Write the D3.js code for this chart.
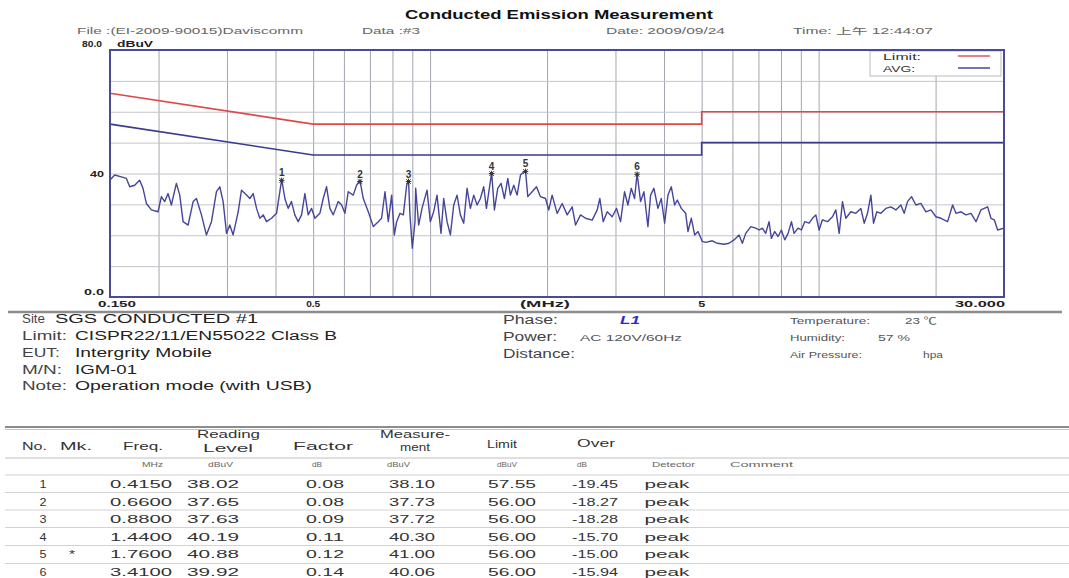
<!DOCTYPE html>
<html>
<head>
<meta charset="utf-8">
<script src="https://cdn.jsdelivr.net/npm/d3@7"></script>
<style>
  body { margin: 0; background: #fff; }
  svg text { font-family: "Liberation Sans", Arial, "Noto Sans CJK SC", sans-serif; }
</style>
</head>
<body>
<svg id="chart" width="1069" height="578"></svg>
<script>
// scan trace, [MHz, dBuV]
const trace = [
  [0.150, 37.9], [0.1542, 39.5], [0.1604, 38.9], [0.1653, 38.4], [0.1686, 35.7], [0.1736, 36.2],
  [0.1788, 37.8], [0.1824, 35.2], [0.1861, 30.3], [0.1917, 28.2], [0.1994, 27.6], [0.2034, 32.5],
  [0.2075, 30.9], [0.2116, 33.5], [0.2158, 29.8], [0.2223, 36.8], [0.2268, 33.0], [0.2313, 24.4],
  [0.2383, 23.3], [0.2455, 30.9], [0.2504, 31.9], [0.2579, 26.6], [0.2656, 20.1], [0.2737, 24.4],
  [0.2819, 34.1], [0.2875, 35.7], [0.2933, 30.9], [0.2992, 20.6], [0.3051, 23.3], [0.3112, 20.1],
  [0.3206, 27.6], [0.3270, 34.6], [0.3369, 33.0], [0.3436, 31.9], [0.3505, 33.5], [0.3575, 28.7],
  [0.3646, 25.5], [0.3719, 26.6], [0.3793, 24.4], [0.3907, 25.5], [0.4025, 27.1], [0.415, 38.1],
  [0.4228, 31.9], [0.4311, 28.7], [0.4397, 30.9], [0.4485, 26.6], [0.4575, 24.4], [0.4668, 26.6],
  [0.4761, 33.5], [0.4856, 26.6], [0.4953, 28.7], [0.5052, 25.5], [0.5204, 27.1], [0.5308, 31.9],
  [0.5414, 35.7], [0.5522, 28.7], [0.5632, 26.6], [0.5802, 30.9], [0.5918, 29.8], [0.6037, 27.1],
  [0.6156, 34.1], [0.6342, 33.0], [0.6468, 36.2], [0.66, 37.73], [0.6730, 31.9], [0.6932, 27.6],
  [0.7141, 22.8], [0.7357, 24.4], [0.7502, 25.5], [0.7653, 34.1], [0.7806, 24.4], [0.7962, 33.0],
  [0.8090, 20.1], [0.8202, 24.4], [0.8366, 27.1], [0.8533, 26.6], [0.8703, 36.2], [0.88, 37.72],
  [0.8875, 26.6], [0.8999, 15.8], [0.9143, 24.4], [0.918, 35.2], [0.9345, 23.3], [0.9532, 28.7],
  [0.9819, 34.6], [1.0013, 24.4], [1.0213, 27.6], [1.0418, 33.0], [1.0668, 20.6], [1.0839, 31.9],
  [1.1057, 24.4], [1.1277, 20.1], [1.1503, 29.8], [1.1730, 33.0], [1.1965, 26.6], [1.2204, 23.9],
  [1.2448, 35.2], [1.2697, 28.7], [1.2951, 33.0], [1.3210, 29.8], [1.3474, 31.9], [1.3742, 35.7],
  [1.3962, 28.7], [1.44, 40.3], [1.4638, 28.2], [1.4931, 35.2], [1.5230, 36.8], [1.5534, 31.9],
  [1.5845, 38.4], [1.6095, 33.0], [1.6418, 36.2], [1.6746, 33.0], [1.7082, 39.5], [1.76, 41.0],
  [1.7841, 32.5], [1.8306, 34.1], [1.8785, 35.7], [1.9235, 32.5], [1.9817, 31.9], [2.0208, 28.2],
  [2.0610, 33.0], [2.1233, 27.1], [2.1873, 30.3], [2.2533, 26.6], [2.3213, 29.2], [2.3678, 23.3],
  [2.4392, 26.6], [2.5122, 25.5], [2.6136, 24.9], [2.6921, 28.2], [2.7347, 31.9], [2.7894, 24.4],
  [2.8563, 27.6], [2.9424, 26.0], [3.0192, 28.7], [3.0917, 24.4], [3.1659, 34.1], [3.2292, 29.8],
  [3.2939, 35.2], [3.3597, 31.9], [3.41, 40.06], [3.4811, 30.9], [3.5507, 34.1], [3.6359, 22.8],
  [3.6941, 33.0], [3.7679, 35.2], [3.8583, 28.7], [3.9354, 31.9], [4.0143, 23.9], [4.0946, 33.0],
  [4.1765, 35.7], [4.2590, 29.8], [4.3274, 31.4], [4.4312, 28.7], [4.5471, 27.1], [4.6103, 21.2],
  [4.7025, 25.5], [4.7966, 20.1], [4.8926, 21.2], [5.0193, 18.0], [5.120, 17.7], [5.327, 18.2],
  [5.487, 17.4], [5.709, 17.1], [5.880, 17.4], [6.056, 18.5], [6.239, 20.1], [6.364, 17.4],
  [6.492, 20.6], [6.689, 22.8], [6.888, 22.3], [7.026, 21.7], [7.164, 22.3], [7.308, 20.6],
  [7.454, 24.4], [7.557, 19.0], [7.707, 21.2], [7.862, 19.6], [8.019, 21.7], [8.181, 18.5],
  [8.345, 20.6], [8.511, 24.4], [8.646, 20.6], [8.853, 22.3], [9.030, 21.7], [9.211, 24.4],
  [9.452, 23.9], [9.641, 25.5], [9.834, 26.6], [10.029, 21.7], [10.229, 25.0], [10.538, 24.4],
  [10.856, 26.0], [11.073, 28.2], [11.294, 20.6], [11.520, 30.9], [11.750, 25.5], [12.104, 27.6],
  [12.467, 27.1], [12.843, 28.7], [13.100, 23.9], [13.361, 27.1], [13.629, 33.0], [13.844, 23.9],
  [14.121, 27.6], [14.459, 27.1], [14.894, 28.7], [15.342, 29.2], [15.806, 28.2], [16.281, 29.8],
  [16.604, 27.1], [16.935, 30.9], [17.342, 32.5], [17.795, 29.8], [18.330, 30.3], [18.884, 27.6],
  [19.454, 28.2], [20.042, 26.0], [20.643, 25.5], [21.477, 24.4], [22.125, 29.8], [22.568, 27.1],
  [23.249, 27.6], [23.949, 26.6], [24.666, 27.1], [25.415, 24.4], [26.163, 28.2], [27.227, 29.2],
  [27.771, 25.5], [28.326, 25.0], [28.892, 21.7], [30.0, 22.3]
];

// CISPR22 class B limits
const limitMHz = [0.15, 0.5, 5, 5, 30];
const limitQP = [66, 56, 56, 60, 60];
const limitAVG = [56, 46, 46, 50, 50];

const gridMHz = [0.2, 0.3, 0.4, 0.5, 0.6, 0.7, 0.8, 0.9, 1, 2, 3, 4, 5, 6, 7, 8, 9, 10, 20];
const gridDb = [10, 20, 30, 40, 50, 60, 70];
const xTicks = [[0.15, '0.150'], [0.5, '0.5'], [5, '5'], [30, '30.000']];
const yTicks = [[80, '80.0'], [40, '40'], [0, '0.0']];

// marker table
const peakNo = [1, 2, 3, 4, 5, 6];
const peakMk = ['', '', '', '', '*', ''];
const peakFreq = [0.415, 0.66, 0.88, 1.44, 1.76, 3.41];
const peakReading = [38.02, 37.65, 37.63, 40.19, 40.88, 39.92];
const peakFactor = [0.08, 0.08, 0.09, 0.11, 0.12, 0.14];
const peakLevel = [38.10, 37.73, 37.72, 40.30, 41.00, 40.06];
const peakLimit = [57.55, 56.00, 56.00, 56.00, 56.00, 56.00];
const peakOver = [-19.45, -18.27, -18.28, -15.70, -15.00, -15.94];
const peakDetector = ['peak', 'peak', 'peak', 'peak', 'peak', 'peak'];

const headerInfo = ['File :(EI-2009-90015)Daviscomm', 'Data :#3', 'Date: 2009/09/24', 'Time: 上午 12:44:07'];
const siteInfo = [
  ['Site', 'SGS CONDUCTED #1'],
  ['Limit:', 'CISPR22/11/EN55022 Class B'],
  ['EUT:', 'Intergrity Mobile'],
  ['M/N:', 'IGM-01'],
  ['Note:', 'Operation mode (with USB)']
];
const testInfo = [['Phase:', 'L1'], ['Power:', 'AC 120V/60Hz'], ['Distance:', '']];
const envInfo = [['Temperature:', '23 ℃'], ['Humidity:', '57 %'], ['Air Pressure:', 'hpa']];

const svg = d3.select('#chart');
svg.append('rect').attr('width', 1069).attr('height', 578).attr('fill', '#fff');

const plot = { left: 110, right: 1004, top: 50, bottom: 297 };
const x = d3.scaleLog().domain([0.15, 30]).range([plot.left, plot.right]);
const y = d3.scaleLinear().domain([0, 80]).range([plot.bottom, plot.top]);

function txt(g, px, py, s, o = {}) {
  const t = g.append('text')
    .attr('x', px).attr('y', py).text(s)
    .attr('font-size', o.size || 11)
    .attr('fill', o.fill || '#333')
    .attr('text-anchor', o.anchor || 'start');
  if (o.weight) t.attr('font-weight', o.weight);
  if (o.style) t.attr('font-style', o.style);
  if (o.w) t.attr('textLength', o.w).attr('lengthAdjust', 'spacingAndGlyphs');
  return t;
}

// title + header line
txt(svg, 405, 19, 'Conducted Emission Measurement', { size: 13, weight: 'bold', w: 308, fill: '#111' });
const headerPos = [[77, 226], [362, 58], [606, 119], [793, 140]];
headerInfo.forEach((s, i) => txt(svg, headerPos[i][0], 34, s, { size: 8.5, w: headerPos[i][1], fill: '#666' }));

// gridlines
svg.append('g')
  .attr('transform', `translate(0, ${plot.bottom})`)
  .call(d3.axisBottom(x).tickValues(gridMHz).tickSize(-(plot.bottom - plot.top)).tickFormat(''))
  .call((g) => g.select('.domain').remove())
  .call((g) => g.selectAll('line').attr('stroke', '#a4a4b0'));

svg.append('g')
  .attr('transform', `translate(${plot.left}, 0)`)
  .call(d3.axisLeft(y).tickValues(gridDb).tickSize(-(plot.right - plot.left)).tickFormat(''))
  .call((g) => g.select('.domain').remove())
  .call((g) => g.selectAll('line').attr('stroke', '#c4c4cc'));

// limit lines
const limitLine = (vals) => d3.line().x((d, i) => x(limitMHz[i])).y((d) => y(d))(vals);
svg.append('path').attr('d', limitLine(limitQP)).attr('fill', 'none').attr('stroke', '#e04848').attr('stroke-width', 1.6);
svg.append('path').attr('d', limitLine(limitAVG)).attr('fill', 'none').attr('stroke', '#3a3a90').attr('stroke-width', 1.6);

// trace
svg.append('path')
  .attr('d', d3.line().x((d) => x(d[0])).y((d) => y(d[1]))(trace))
  .attr('fill', 'none')
  .attr('stroke', '#45459a')
  .attr('stroke-width', 1.4)
  .attr('stroke-linejoin', 'round');

// markers
const mk = svg.append('g');
peakNo.forEach((n, i) => {
  const px = x(peakFreq[i]);
  const py = y(peakLevel[i]);
  const r = 2.8;
  mk.append('path')
    .attr('d', `M${px - r},${py + 1}H${px + r}M${px},${py + 1 - r}V${py + 1 + r}M${px - r * 0.8},${py + 1 - r * 0.8}L${px + r * 0.8},${py + 1 + r * 0.8}M${px - r * 0.8},${py + 1 + r * 0.8}L${px + r * 0.8},${py + 1 - r * 0.8}`)
    .attr('stroke', '#333').attr('stroke-width', 1);
  txt(mk, px, py - 3, String(n), { size: 10, anchor: 'middle', weight: 'bold', fill: '#333' });
});

// legend
const lg = svg.append('g');
lg.append('rect').attr('x', 870).attr('y', 51).attr('width', 131).attr('height', 25)
  .attr('fill', '#fff').attr('stroke', '#bbb');
txt(lg, 883, 60, 'Limit:', { size: 8.5, w: 38, fill: '#333' });
txt(lg, 883, 72, 'AVG:', { size: 8.5, w: 32, fill: '#333' });
lg.append('line').attr('x1', 958).attr('x2', 990).attr('y1', 56).attr('y2', 56).attr('stroke', '#e04848').attr('stroke-width', 1.4);
lg.append('line').attr('x1', 958).attr('x2', 990).attr('y1', 68).attr('y2', 68).attr('stroke', '#3a3a90').attr('stroke-width', 1.4);

// frame
svg.append('rect')
  .attr('x', plot.left).attr('y', plot.top)
  .attr('width', plot.right - plot.left).attr('height', plot.bottom - plot.top)
  .attr('fill', 'none').attr('stroke', '#4a4a96').attr('stroke-width', 2);

// axis labels
txt(svg, 82, y(yTicks[0][0]) - 3, yTicks[0][1], { size: 9, weight: 'bold', w: 20, fill: '#222' });
txt(svg, 117, y(80) - 3, 'dBuV', { size: 9, weight: 'bold', w: 36, fill: '#222' });
txt(svg, 90, y(yTicks[1][0]) + 3, yTicks[1][1], { size: 9, weight: 'bold', w: 14, fill: '#222' });
txt(svg, 84, y(yTicks[2][0]) - 2, yTicks[2][1], { size: 9, weight: 'bold', w: 20, fill: '#222' });

const xw = [38, 14, 7, 50];
xTicks.forEach(([v, s], i) => {
  let px = x(v), anchor = 'middle';
  if (i === 0) { px -= 12; anchor = 'start'; }
  if (i === xTicks.length - 1) { px += 1; anchor = 'end'; }
  txt(svg, px, 307, s, { size: 9, weight: 'bold', w: xw[i], anchor, fill: '#222' });
});
txt(svg, 545, 307, '(MHz)', { size: 9, weight: 'bold', w: 50, anchor: 'middle', fill: '#222' });

// separator
svg.append('line').attr('x1', 8).attr('x2', 1062).attr('y1', 312).attr('y2', 312)
  .attr('stroke', '#8c8c8c').attr('stroke-width', 2.5);

// info block
const infoY = [323, 340, 357, 374, 390];
const siteLabelW = [23, 45, 38, 40, 45];
const siteValX = [55, 75, 75, 75, 75];
const siteValW = [203, 262, 137, 62, 237];
siteInfo.forEach(([l, v], i) => {
  txt(svg, 22, infoY[i], l, { size: 12, w: siteLabelW[i], fill: '#444' });
  txt(svg, siteValX[i], infoY[i], v, { size: 12, w: siteValW[i], fill: '#222' });
});

const testY = [324, 341, 358];
const testLabelW = [55, 54, 72];
testInfo.forEach(([l, v], i) => {
  txt(svg, 503, testY[i], l, { size: 12, w: testLabelW[i], fill: '#444' });
});
txt(svg, 620, testY[0], testInfo[0][1], { size: 11, w: 20, weight: 'bold', style: 'italic', fill: '#2c2cd0' });
txt(svg, 580, testY[1], testInfo[1][1], { size: 9, w: 102, fill: '#555' });

const envLabelW = [80, 55, 72];
const envValX = [905, 878, 923];
const envValW = [32, 32, 20];
envInfo.forEach(([l, v], i) => {
  txt(svg, 790, testY[i], l, { size: 9, w: envLabelW[i], fill: '#555' });
  txt(svg, envValX[i], testY[i], v, { size: 9, w: envValW[i], fill: '#555' });
});

// table
const tb = svg.append('g');
tb.append('line').attr('x1', 5).attr('x2', 1069).attr('y1', 427).attr('y2', 427).attr('stroke', '#8c8c8c').attr('stroke-width', 2);
tb.append('line').attr('x1', 5).attr('x2', 1069).attr('y1', 429.5).attr('y2', 429.5).attr('stroke', '#c4c4c4').attr('stroke-width', 1);
tb.append('line').attr('x1', 5).attr('x2', 1069).attr('y1', 458).attr('y2', 458).attr('stroke', '#c0c0c0').attr('stroke-width', 1);
const rowLineY = [475, 492.5, 510, 527.5, 545.5, 563.5];
rowLineY.forEach((ly) => tb.append('line').attr('x1', 5).attr('x2', 1069).attr('y1', ly).attr('y2', ly)
  .attr('stroke', '#d2d2d2').attr('stroke-width', 1));

const heads = [
  ['No.', 22, 25, 450], ['Mk.', 60, 32, 450], ['Freq.', 123, 40, 450],
  ['Reading', 197, 63, 438], ['Level', 203, 50, 452], ['Factor', 293, 60, 450],
  ['Measure-', 380, 70, 438], ['ment', 400, 30, 451], ['Limit', 487, 30, 448], ['Over', 577, 38, 447]
];
heads.forEach(([s, hx, hw, hy]) => txt(tb, hx, hy, s, { size: 11, w: hw, fill: '#333' }));

const units = [['MHz', 142, 21], ['dBuV', 208, 25], ['dB', 312, 10], ['dBuV', 387, 23],
  ['dBuV', 497, 20], ['dB', 577, 10], ['Detector', 652, 43], ['Comment', 730, 63]];
units.forEach(([s, ux, uw]) => txt(tb, ux, 467, s, { size: 7, w: uw, fill: '#666' }));

const cols = [
  [peakNo, 43, 7, (d) => String(d)],
  [peakMk, 72, 6, (d) => d],
  [peakFreq, 141, 62, (d) => d.toFixed(4)],
  [peakReading, 213, 52, (d) => d.toFixed(2)],
  [peakFactor, 325, 38, (d) => d.toFixed(2)],
  [peakLevel, 412, 46, (d) => d.toFixed(2)],
  [peakLimit, 512, 48, (d) => d.toFixed(2)],
  [peakOver, 595, 46, (d) => d.toFixed(2)],
  [peakDetector, 667, 45, (d) => d]
];
peakNo.forEach((n, r) => {
  const ry = 488 + r * 17.6;
  cols.forEach(([arr, cx, cw, fmt]) => {
    const s = fmt(arr[r]);
    if (!s) return;
    txt(tb, cx, ry, s, { size: 11, w: cw, anchor: 'middle', fill: '#333' });
  });
});
</script>
</body>
</html>
